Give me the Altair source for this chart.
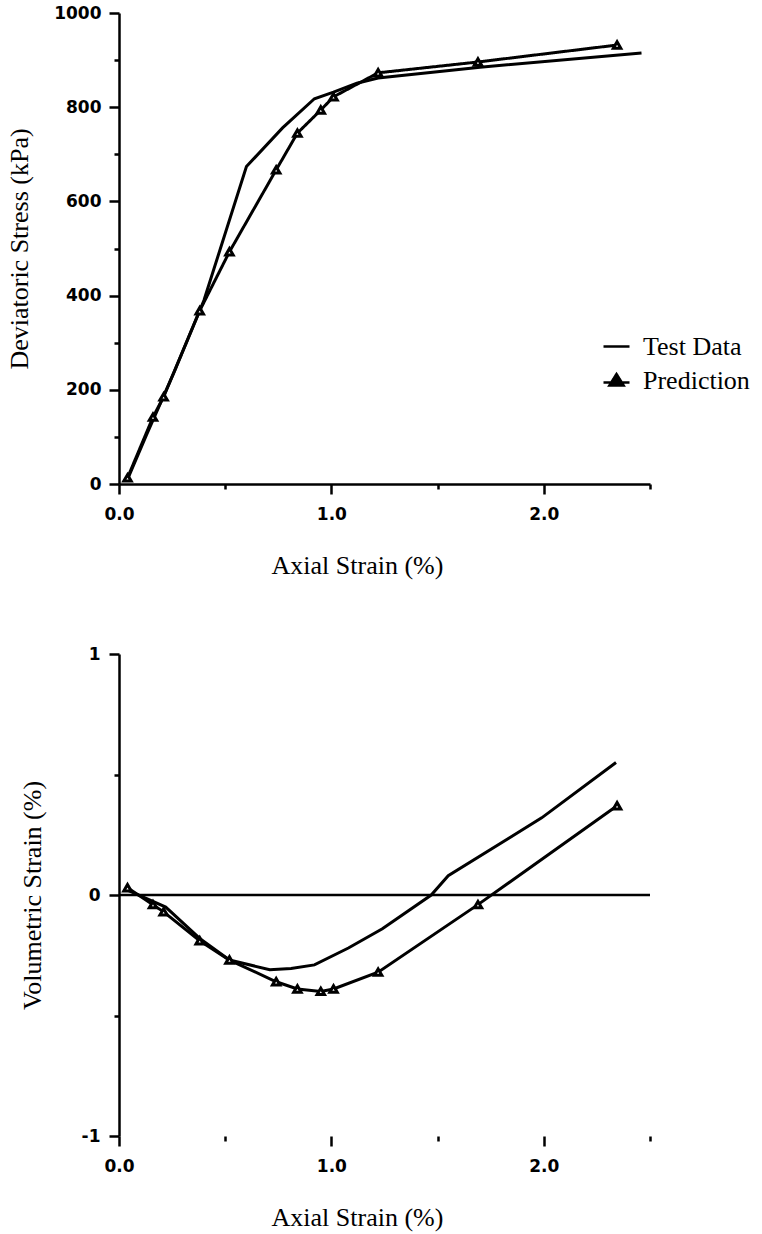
import altair as alt
import pandas as pd

# ---- data ----
strain_pred = [0.04, 0.16, 0.21, 0.38, 0.52, 0.74, 0.84, 0.95, 1.01, 1.22, 1.69, 2.345]
stress_pred = [13, 142, 185, 368, 493, 667, 745, 794, 822, 873, 896, 932]
vol_pred = [0.03, -0.04, -0.07, -0.19, -0.27, -0.36, -0.39, -0.40, -0.39, -0.32, -0.04, 0.37]

strain_test_top = [0.04, 0.13, 0.26, 0.40, 0.60, 0.77, 0.92, 1.01, 1.12, 1.22, 1.70, 2.46]
stress_test = [10, 105, 238, 390, 674, 756, 818, 832, 851, 862, 885, 915]

strain_test_bot = [0.04, 0.22, 0.38, 0.52, 0.71, 0.81, 0.92, 1.08, 1.24, 1.47, 1.55, 1.99, 2.34]
vol_test = [0.02, -0.05, -0.18, -0.27, -0.31, -0.305, -0.29, -0.22, -0.14, 0.0, 0.08, 0.32, 0.55]

series_names = ["Test Data", "Prediction"]
x_ticks = [0, 0.5, 1.0, 1.5, 2.0, 2.5]
stress_ticks = list(range(0, 1001, 100))
vol_ticks = [-1, -0.5, 0, 0.5, 1]
zero_line = {"x0": [0.0], "x1": [2.5], "y": [0.0]}

top_test = pd.DataFrame({"strain": strain_test_top, "stress": stress_test, "series": series_names[0]})
top_pred = pd.DataFrame({"strain": strain_pred, "stress": stress_pred, "series": series_names[1]})

bot_df = pd.concat([
    pd.DataFrame({"strain": strain_test_bot, "vol": vol_test, "series": series_names[0]}),
    pd.DataFrame({"strain": strain_pred, "vol": vol_pred, "series": series_names[1]}),
])
bot_pts = pd.DataFrame({"strain": strain_pred, "vol": vol_pred})
zero_df = pd.DataFrame(zero_line)

LABEL_FONT = "DejaVu Sans"
TITLE_FONT = "Liberation Serif"
PRED_PATH = "M-1,0.15H1M-0.55,0.38L0,-0.5L0.55,0.38Z"

axis_common = dict(
    grid=False, domainColor="black", domainWidth=2.5, tickColor="black", tickWidth=2.5,
    labelFont=LABEL_FONT, labelFontSize=17, labelFontWeight="bold", labelColor="black",
    titleFont=TITLE_FONT, titleFontSize=26, titleFontWeight="normal", titleColor="black",
    labelOverlap=False, labelFlush=False,
)


def x_axis(domain=True):
    return alt.Axis(
        values=x_ticks,
        labelExpr="datum.value % 1 === 0 ? format(datum.value, '.1f') : ''",
        tickSize={"condition": {"test": "datum.value % 1 === 0", "value": 10}, "value": 5},
        labelPadding=12, domain=domain,
        title="Axial Strain (%)", titleX=238, titleY=81, titleAlign="center",
        titleBaseline="middle", titleAngle=0,
        **axis_common,
    )


x_scale = alt.Scale(domain=[0, 2.5], nice=False, zero=False)

legend_common = dict(
    title=None, orient="none", padding=0,
    labelFont=TITLE_FONT, labelFontSize=26, labelColor="black", labelOffset=12, labelLimit=400,
    symbolSize=676, symbolStrokeWidth=2.5, symbolStrokeColor="black", symbolOpacity=1,
)

marker_style = dict(shape="triangle-up", filled=True, fill="white", stroke="black",
                    strokeWidth=3, size=55, opacity=1)

# ---- top panel ----
y_top_axis = alt.Axis(
    values=stress_ticks,
    labelExpr="datum.value % 200 === 0 ? format(datum.value, 'd') : ''",
    tickSize={"condition": {"test": "datum.value % 200 === 0", "value": 10}, "value": 5},
    labelPadding=8,
    title="Deviatoric Stress (kPa)", titleX=-100, titleY=235.5, titleAngle=270,
    titleAlign="center", titleBaseline="middle",
    **axis_common,
)

top_test_line = alt.Chart(top_test).mark_line(strokeWidth=3).encode(
    x=alt.X("strain:Q", scale=x_scale, axis=x_axis(True)),
    y=alt.Y("stress:Q", scale=alt.Scale(domain=[0, 1000], nice=False), axis=y_top_axis),
    color=alt.Color("series:N", scale=alt.Scale(domain=[series_names[0]], range=["black"]),
                    legend=alt.Legend(legendX=483, legendY=319, symbolType="stroke",
                                      **legend_common)),
    order="strain:Q",
)
top_pred_line = alt.Chart(top_pred).mark_line(strokeWidth=3, color="black").encode(
    x="strain:Q", y="stress:Q",
    strokeDash=alt.StrokeDash("series:N",
                              scale=alt.Scale(domain=[series_names[1]], range=[[1, 0]]),
                              legend=alt.Legend(legendX=483, legendY=353, symbolType=PRED_PATH,
                                                symbolFillColor="black", **legend_common)),
    order="strain:Q",
)
top_points = alt.Chart(top_pred).mark_point(**marker_style).encode(x="strain:Q", y="stress:Q")

top = alt.layer(top_test_line, top_pred_line, top_points).properties(width=531, height=471)

# ---- bottom panel ----
y_bot_axis = alt.Axis(
    values=vol_ticks,
    labelExpr="datum.value % 1 === 0 ? ('' + datum.value) : ''",
    tickSize={"condition": {"test": "datum.value % 1 === 0", "value": 10}, "value": 5},
    labelPadding=9,
    title="Volumetric Strain (%)", titleX=-87, titleY=241, titleAngle=270,
    titleAlign="center", titleBaseline="middle",
    **axis_common,
)

bot_zero = alt.Chart(zero_df).mark_rule(color="black", strokeWidth=2.5).encode(
    x=alt.X("x0:Q", scale=x_scale, axis=x_axis(False)),
    x2="x1:Q",
    y=alt.Y("y:Q", scale=alt.Scale(domain=[-1, 1], nice=False), axis=y_bot_axis),
)
bot_lines = alt.Chart(bot_df).mark_line(strokeWidth=3, color="black").encode(
    x="strain:Q", y="vol:Q", detail="series:N", order="strain:Q",
)
bot_points = alt.Chart(bot_pts).mark_point(**marker_style).encode(x="strain:Q", y="vol:Q")

bottom = alt.layer(bot_zero, bot_lines, bot_points).properties(width=531, height=482)

chart = alt.vconcat(top, bottom, spacing=170, bounds="flush").resolve_scale(
    x="independent", y="independent"
).properties(
    padding={"left": 6, "top": 4, "right": 4, "bottom": 4},
    background="white",
).configure_view(stroke=None)

chart.save("out.html", embed_options={"renderer": "svg", "actions": False})
